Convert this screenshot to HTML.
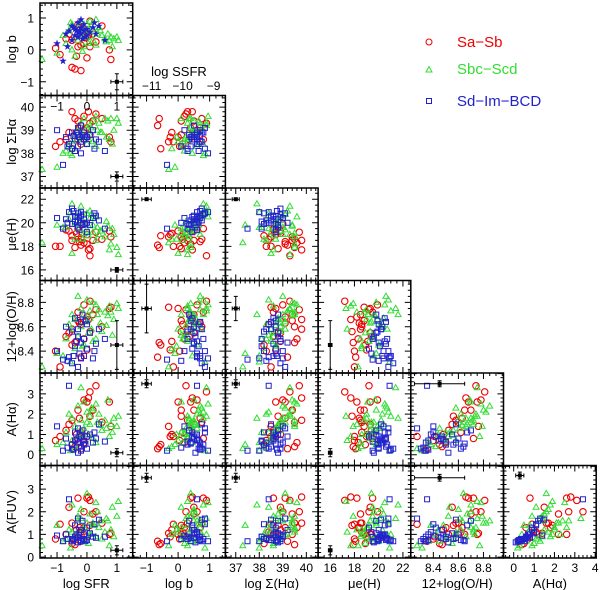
<!DOCTYPE html>
<html><head><meta charset="utf-8"><style>
body{margin:0;background:#fff}
svg{display:block;font-family:"Liberation Sans",sans-serif}
</style></head><body>
<svg id="c" width="600" height="590" xmlns="http://www.w3.org/2000/svg">
<g>
<circle cx="429" cy="42" r="3" fill="none" stroke="#e00" stroke-width="1"/>
<text x="457" y="47" font-size="15" fill="#e00">Sa−Sb</text>
<path d="M426,72 L432,72 L429,66.5 Z" fill="none" stroke="#3d3" stroke-width="1"/>
<text x="457" y="74" font-size="15" fill="#3d3">Sbc−Scd</text>
<rect x="426.5" y="98.5" width="5" height="5" fill="none" stroke="#22c" stroke-width="1"/>
<text x="457" y="106" font-size="15" fill="#22c">Sd−Im−BCD</text>
</g>
</svg>
<script>
// ---- data: one array per variable per morphological class ----
const redSfr=[-0.9,-0.6,-0.5,-0.4,-0.3,-0.3,-0.2,-0.2,-0.1,-0.1,0,0,0.1,0.1,0.2,0.3,-0.7,-0.5,-0.25,0.75,0.8,-1.05,0.05,-0.35,0.5];
const redLogb=[-0.15,0.5,0.3,-0.6,0.1,0.8,-0.65,0.15,0.6,0.2,0.4,-0.25,0.9,0.1,0.5,0.25,0.35,-0.55,0.7,0.0,-0.3,0.05,0.45,-0.2,0.75];
const redSha=[38.5,38.9,39.8,39.5,39.4,38.6,39.2,38.4,39.0,39.6,39.1,38.7,39.3,38.8,39.4,39.7,38.6,38.2,39.1,38.7,38.5,38.3,39.8,38.9,39.5];
const redMu=[18.0,19.3,18.5,17.9,18.8,19.5,18.1,18.6,19.9,18.3,18.2,19.0,17.2,17.8,18.5,19.2,19.4,18.9,18.4,19.3,18.8,18.0,17.7,19.1,18.6];
const redOh=[8.27,8.55,8.58,8.47,8.65,8.72,8.35,8.62,8.78,8.5,8.68,8.41,8.81,8.56,8.7,8.74,8.52,8.45,8.63,8.75,8.76,8.4,8.66,8.48,8.6];
const redAha=[0.9,1.5,1.7,0.4,2.2,0.8,0.3,1.1,2.7,0.6,2.6,0.9,3.1,1.9,2.2,3.4,1.2,0.5,1.8,2.6,1.4,0.7,2.8,1.0,1.6];
const redAfuv=[1.45,2.2,1.5,0.55,1.0,2.6,0.7,1.1,2.0,1.3,2.6,0.9,2.5,1.4,1.9,2.0,1.0,0.6,1.3,1.0,1.05,0.8,2.65,1.2,1.5];

const grnSfr=[-1.5,-1.0,-0.7,-0.6,-0.5,-0.5,-0.4,-0.4,-0.3,-0.3,-0.2,-0.2,-0.1,-0.1,0,0,0.05,0.1,0.1,0.2,0.2,0.3,0.3,0.35,0.4,0.5,0.6,0.65,0.7,0.75,0.8,0.85,0.9,1.0,1.05,-0.55,-0.15,0.15,0.45,-0.8];
const grnLogb=[-0.3,-0.1,0.2,0.6,0.8,0.0,0.4,-0.2,0.7,0.3,0.9,0.5,0.1,0.6,0.8,0.4,0.2,0.9,0.55,0.3,0.65,0.95,0.15,0.5,0.7,0.45,0.35,0.25,0.5,0.3,0.4,0.1,0.35,0.4,0.3,0.85,-0.05,0.75,0.6,0.45];
const grnSha=[37.3,37.4,38.1,38.3,37.9,38.5,38.8,38.2,39.0,38.6,39.3,38.9,39.5,38.7,38.4,39.1,38.6,39.2,38.8,38.5,39.4,39.6,38.3,39.0,39.3,38.9,39.5,38.7,39.4,38.6,39.5,38.4,39.0,39.5,39.3,38.0,38.7,39.1,38.9,38.0];
const grnMu=[18.3,19.8,19.6,20.3,21.6,17.4,19.9,18.6,20.6,19.5,21.4,20.2,19.1,20.0,20.8,19.4,18.9,21.0,20.4,19.2,19.8,20.5,18.5,19.6,19.0,19.3,18.8,20.1,19.7,17.7,18.2,19.5,19.0,17.9,17.3,20.9,18.6,20.7,19.3,19.6];
const grnOh=[8.27,8.38,8.5,8.62,8.7,8.58,8.66,8.42,8.85,8.52,8.75,8.6,8.7,8.45,8.82,8.64,8.55,8.73,8.67,8.48,8.8,8.78,8.5,8.7,8.74,8.56,8.72,8.61,8.69,8.77,8.72,8.53,8.66,8.79,8.75,8.31,8.44,8.58,8.63,8.36];
const grnAha=[0.3,0.5,1.1,2.0,1.8,0.7,1.4,0.4,2.4,0.9,3.3,1.7,2.6,1.3,2.1,1.6,1.0,1.9,1.5,0.8,2.2,2.5,0.6,1.6,2.0,1.2,1.7,1.3,2.7,0.9,1.5,1.1,1.8,1.4,1.9,0.2,1.0,2.3,1.45,0.6];
const grnAfuv=[0.5,1.4,0.8,1.2,2.3,1.1,0.9,1.0,1.6,1.8,1.7,2.1,1.3,0.7,1.5,2.8,0.6,1.0,1.9,1.4,1.5,2.4,0.9,2.0,1.3,0.8,1.1,1.7,1.6,0.5,1.2,2.2,0.9,1.8,2.45,0.4,1.2,1.0,1.6,0.7];

const bluSfr=[-1.0,-0.8,-0.7,-0.6,-0.5,-0.5,-0.4,-0.4,-0.3,-0.3,-0.3,-0.25,-0.2,-0.2,-0.2,-0.15,-0.1,-0.1,0,0,0.1,0.2,0.3,0.4,-0.65,-0.35,-0.05,0.25,-0.45,0.6];
const bluLogb=[0.2,-0.35,0.5,0.6,0.3,0.75,0.45,0.65,0.55,0.85,0.4,0.6,0.7,0.5,0.95,0.35,0.6,0.8,0.45,0.65,0.55,0.7,0.5,0.75,0.1,0.6,0.4,0.85,0.7,0.3];
const bluSha=[39.0,37.5,38.7,38.4,38.2,38.9,38.6,38.1,38.8,39.1,38.3,38.7,38.5,39.2,38.0,38.8,38.6,38.9,38.7,38.4,38.8,39.0,38.6,38.5,38.3,38.9,38.7,38.2,38.75,38.1];
const bluMu=[20.4,19.5,20.3,20.9,19.9,21.2,20.5,20.1,19.6,20.8,20.2,19.4,20.6,20.0,20.9,19.8,20.3,20.7,19.2,20.0,19.8,20.4,20.6,20.2,20.0,20.5,19.9,20.8,21.0,19.5];
const bluOh=[8.4,8.33,8.6,8.35,8.56,8.3,8.67,8.44,8.52,8.27,8.58,8.38,8.64,8.47,8.34,8.7,8.36,8.5,8.42,8.62,8.55,8.34,8.46,8.58,8.32,8.48,8.65,8.4,8.36,8.5];
const bluAha=[1.4,0.2,0.8,3.4,0.5,0.3,1.1,0.7,0.1,1.3,0.6,1.0,0.4,0.9,0.2,1.2,0.7,0.5,0.9,0.3,1.0,0.6,0.8,1.5,0.35,0.75,0.55,1.1,0.25,0.65];
const bluAfuv=[0.95,0.7,1.0,2.55,0.8,0.7,1.4,0.9,0.65,1.7,0.85,1.1,0.75,1.2,0.7,1.6,1.0,0.8,1.3,0.75,1.05,0.9,0.85,1.65,0.8,1.0,0.7,1.45,0.75,0.9];

const xTitles=["log SFR","log b","log Σ(Hα)","μe(H)","12+log(O/H)","A(Hα)"];
const yTitles=["log b","log ΣHα","μe(H)","12+log(O/H)","A(Hα)","A(FUV)"];
const ssfrTicks=[-11,-10,-9];

// ---- layout / axis specs ----
const L=40,T=3,W=92.7,H=92.5;
const varSpec=[
 {xr:[-1.57,1.53],yr:null,maj:1,min:0.2},
 {xr:[-1.44,1.5],yr:[-1.43,1.47],maj:1,min:0.2},
 {xr:[36.56,40.5],yr:[36.5,40.5],maj:1,min:0.2},
 {xr:[15.0,22.65],yr:[15.1,22.95],maj:2,min:0.5},
 {xr:[8.22,8.96],yr:[8.22,8.98],maj:0.2,min:0.05},
 {xr:[-0.5,4.05],yr:[-0.53,4.03],maj:1,min:0.2},
 {xr:null,yr:[-0.04,4.04],maj:1,min:0.2}
];
const yLabs=[[-1,0,1],[37,38,39,40],[16,18,20,22],[8.4,8.6,8.8],[0,1,2,3],[0,1,2,3]];
const xLabs=[[-1,0,1],[-1,0,1],[37,38,39,40],[16,18,20,22],[8.4,8.6,8.8],[0,1,2,3,4]];
const classes=[
 {name:"sa-sb",col:"#e00",sh:"c",v:[redSfr,redLogb,redSha,redMu,redOh,redAha,redAfuv]},
 {name:"sbc-scd",col:"#3d3",sh:"t",v:[grnSfr,grnLogb,grnSha,grnMu,grnOh,grnAha,grnAfuv]},
 {name:"sd-im-bcd",col:"#22c",sh:"s",v:[bluSfr,bluLogb,bluSha,bluMu,bluOh,bluAha,bluAfuv]}
];
const errs={"0,0":[1,-1,.2,.25],"1,0":[1,37,.2,.2],"2,0":[1,16,.2,.2],"2,1":[-1,22,.15,.1],"2,2":[37,22,.15,.1],
"3,0":[1,8.45,.2,.2],"3,1":[-1,8.75,.15,.2],"3,2":[37,8.75,.15,.1],"3,3":[16,8.45,.15,.2],
"4,0":[1,.1,.2,.2],"4,1":[-1,3.5,.15,.2],"4,2":[37,3.5,.15,.2],"4,3":[16,.1,.15,.2],"4,4":[8.45,3.5,.2,.15],
"5,0":[1,.3,.2,.2],"5,1":[-1,3.5,.15,.2],"5,2":[37,3.5,.15,.2],"5,3":[16,.3,.15,.2],"5,4":[8.45,3.5,.2,.15],"5,5":[0.3,3.6,.2,.15]};

const svg=document.getElementById('c');
const NS="http://www.w3.org/2000/svg";
function mk(tag,at,parent){const e=document.createElementNS(NS,tag);for(const k in at)e.setAttribute(k,at[k]);(parent||svg).appendChild(e);return e;}
function scale(r,a,b){return v=>a+(v-r[0])/(r[1]-r[0])*(b-a);}
function fmt(v){return (v<0?"−":"")+String(Math.abs(Math.round(v*100)/100));}

for(let r=0;r<6;r++){
 for(let c=0;c<=r;c++){
  const x0=L+c*W,y0=T+r*H,x1=x0+W,y1=y0+H;
  const xs=varSpec[c],ys=varSpec[r+1];
  const sx=scale(xs.xr,x0,x1),sy=scale(ys.yr,y1,y0);
  const g=mk('g',{});
  
  
  let d="";
  const tk=(rng,step,len,fn)=>{const s=Math.ceil(rng[0]/step-1e-6);for(let i=s;i*step<=rng[1]+1e-9;i++)fn(i*step,len);};
  tk(xs.xr,xs.min,3,(v,l)=>{const p=sx(v);d+=`M${p},${y1}v${-l}M${p},${y0}v${l}`;});
  tk(xs.xr,xs.maj,6,(v,l)=>{const p=sx(v);d+=`M${p},${y1}v${-l}M${p},${y0}v${l}`;});
  tk(ys.yr,ys.min,3,(v,l)=>{const p=sy(v);d+=`M${x0},${p}h${l}M${x1},${p}h${-l}`;});
  tk(ys.yr,ys.maj,6,(v,l)=>{const p=sy(v);d+=`M${x0},${p}h${l}M${x1},${p}h${-l}`;});
  mk('path',{d:d,stroke:"#000","stroke-width":1,fill:"none"},g);
  for(const cl of classes){
   const X=cl.v[c],Y=cl.v[r+1];
   for(let i=0;i<X.length;i++){
    const px=sx(X[i]),py=sy(Y[i]);
    if(px<x0||px>x1||py<y0||py>y1)continue;
    let e;
    if(r===0&&c===0&&cl.sh==="s"){
     let p="";for(let k=0;k<10;k++){const a=-Math.PI/2+k*Math.PI/5,rr=k%2?1.6:4;p+=(k?"L":"M")+(px+rr*Math.cos(a)).toFixed(1)+","+(py+rr*Math.sin(a)).toFixed(1);}
     e=mk('path',{d:p+"Z",fill:cl.col},g);
    }else if(cl.sh==="c")e=mk('circle',{cx:px,cy:py,r:3.2,fill:"none",stroke:cl.col,"stroke-width":1.1},g);
    else if(cl.sh==="t")e=mk('path',{d:`M${px-3},${py+2}L${px+3},${py+2}L${px},${py-3.2}Z`,fill:"none",stroke:cl.col,"stroke-width":1},g);
    else e=mk('rect',{x:px-2.5,y:py-2.5,width:5,height:5,fill:"none",stroke:cl.col,"stroke-width":1},g);
    
    
   }
  }
  const eb=errs[r+","+c];
  if(eb){const px=sx(eb[0]),py=sy(eb[1]);
   const ex=Math.abs(sx(eb[0]+eb[2])-px),ey=Math.abs(sy(eb[1]+eb[3])-py);
   const e=mk('path',{d:`M${px-ex},${py}h${2*ex}M${px},${py-ey}v${2*ey}M${px-ex},${py-2}v4M${px+ex},${py-2}v4M${px-2},${py-ey}h4M${px-2},${py+ey}h4`,stroke:"#000","stroke-width":1,fill:"none"},g);
   
   
   mk('rect',{x:px-2,y:py-2,width:4,height:4,fill:"#000"},g);
  }
  mk('rect',{x:x0,y:y0,width:W,height:H,fill:"none",stroke:"#000","stroke-width":1.5},g);
  if(c===0){for(const v of yLabs[r]){const t=mk('text',{x:x0-6,y:sy(v)+4.5,"font-size":12,"text-anchor":"end"},g);t.textContent=fmt(v);}
   const yt=mk('text',{x:0,y:0,"font-size":13,"text-anchor":"middle",transform:`translate(16,${y0+H/2}) rotate(-90)`},g);yt.textContent=yTitles[r];
   }
  if(r===5){for(const v of xLabs[c]){const t=mk('text',{x:sx(v),y:y1+14,"font-size":12,"text-anchor":"middle"},g);t.textContent=fmt(v);}
   const xt=mk('text',{x:x0+W/2,y:588,"font-size":13,"text-anchor":"middle"},g);xt.textContent=xTitles[c];
   }
  if(r===1&&c===0){for(const v of [-1,0,1]){const t=mk('text',{x:sx(v),y:y0+15,"font-size":12,"text-anchor":"middle"},g);t.textContent=fmt(v);}}
 }
}
const st=mk('text',{x:179,y:76,"font-size":13,"text-anchor":"middle"});st.textContent="log SSFR";

const ssx=scale([-11.6,-8.6],133,226);
for(const v of ssfrTicks){const t=mk('text',{x:ssx(v),y:90,"font-size":12,"text-anchor":"middle"});t.textContent=fmt(v);
 }
</script>
</body></html>
